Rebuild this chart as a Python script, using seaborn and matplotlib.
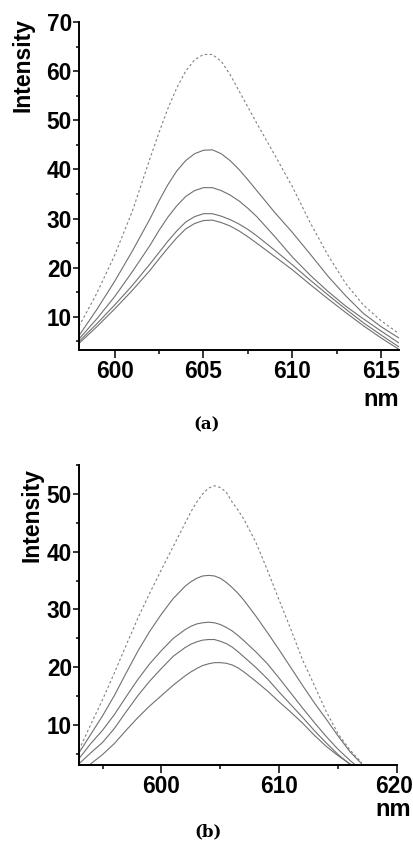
import matplotlib
matplotlib.use("Agg")
import matplotlib.pyplot as plt
from matplotlib.ticker import MultipleLocator
from matplotlib.transforms import ScaledTranslation
import seaborn as sns

# panel (a) -- emission spectra, 598-616 nm
wl_a = [598, 599, 600, 601, 602,
        602.5, 603, 603.5, 604, 604.5, 605, 605.5, 606, 606.5, 607, 607.5, 608,
        609, 610, 611, 612, 613, 614, 615, 616]
ref_a = [8.1, 14.8, 22.5, 31.5, 42.3,
         47.5, 52.4, 56.6, 60.0, 62.3, 63.4, 63.4, 62.0, 59.3, 56.0, 52.7, 49.4,
         43.0, 36.5, 29.2, 22.6, 16.8, 12.4, 9.2, 6.6]
s1_a = [6.2, 11.5, 17.2, 23.4, 30.0,
        33.6, 36.9, 39.7, 41.8, 43.2, 43.9, 44.0, 43.2, 41.8, 40.0, 37.9, 35.7,
        31.3, 27.2, 22.8, 18.3, 14.3, 10.7, 8.0, 5.7]
s2_a = [5.5, 9.6, 14.1, 19.2, 24.6,
        27.6, 30.3, 32.6, 34.5, 35.7, 36.3, 36.3, 35.7, 34.8, 33.6, 32.1, 30.4,
        26.4, 22.2, 18.5, 15.2, 12.2, 9.6, 7.1, 4.7]
s3_a = [5.0, 8.6, 12.4, 16.4, 20.8,
        23.1, 25.4, 27.5, 29.3, 30.4, 31.0, 31.0, 30.5, 29.8, 28.9, 27.8, 26.5,
        23.6, 20.6, 17.5, 14.5, 11.6, 8.8, 6.3, 3.9]
s4_a = [4.6, 8.0, 11.6, 15.4, 19.5,
        21.8, 24.0, 26.1, 27.9, 29.0, 29.6, 29.7, 29.2, 28.5, 27.5, 26.3, 25.0,
        22.3, 19.6, 16.6, 13.7, 10.9, 8.2, 5.7, 3.4]

# panel (b) -- 593-620 nm
wl_b = [593, 594, 595, 596, 597, 598, 599, 600, 601, 602,
        602.5, 603, 603.5, 604, 604.5, 605, 605.5, 606, 606.5, 607,
        608, 609, 610, 611, 612, 613, 614, 615, 616, 617]
ref_b = [5.7, 10.1, 14.4, 19.0, 23.8, 28.5, 32.8, 36.9, 40.9, 44.9,
         46.9, 48.6, 50.0, 51.0, 51.4, 51.1, 50.3, 48.6, 47.2, 45.6,
         41.7, 36.8, 31.6, 26.5, 21.2, 16.8, 12.3, 8.5, 5.7, 3.5]
s1_b = [5.2, 8.4, 11.6, 15.1, 19.0, 22.8, 26.2, 29.2, 31.9, 34.0,
        34.8, 35.4, 35.8, 35.9, 35.8, 35.4, 34.7, 33.8, 32.8, 31.6,
        28.9, 26.0, 23.0, 19.9, 16.8, 13.8, 11.0, 8.1, 5.4, 3.3]
s2_b = [4.2, 6.8, 9.1, 11.8, 14.9, 17.9, 20.6, 22.9, 25.0, 26.5,
        27.1, 27.5, 27.7, 27.8, 27.7, 27.4, 26.9, 26.3, 25.5, 24.6,
        22.7, 20.6, 18.1, 15.5, 12.9, 10.4, 8.0, 5.8, 3.9, 2.2]
s3_b = [3.3, 5.2, 7.0, 9.4, 12.3, 15.1, 17.6, 19.8, 21.9, 23.4,
        24.0, 24.4, 24.7, 24.8, 24.8, 24.5, 24.1, 23.5, 22.7, 21.8,
        20.0, 18.0, 15.7, 13.5, 11.3, 9.0, 6.9, 4.9, 3.2, 1.8]
s4_b = [1.6, 3.3, 4.9, 6.8, 9.1, 11.3, 13.3, 15.1, 16.9, 18.5,
        19.2, 19.8, 20.3, 20.6, 20.8, 20.8, 20.7, 20.4, 19.9, 19.2,
        17.6, 15.9, 14.0, 12.2, 10.3, 8.2, 6.3, 4.7, 3.3, 2.0]

sns.set_style("ticks")
# narrow bold everywhere (tick labels, nm); Intensity gets the regular face
plt.rcParams['font.family'] = ['Liberation Sans Narrow', 'Liberation Sans', 'DejaVu Sans']
plt.rcParams['font.weight'] = 'bold'
plt.rcParams['text.color'] = 'black'
plt.rcParams['xtick.color'] = 'black'
plt.rcParams['ytick.color'] = 'black'
plt.rcParams['lines.solid_joinstyle'] = 'round'

fig = plt.figure(figsize=(4.14, 8.41), dpi=100)
ax_a = fig.add_axes([79/414, 1 - 350/841, 320/414, 328/841])
ax_b = fig.add_axes([79/414, 1 - 765/841, 318/414, 300/841])

line_col = '#707070'


def draw(ax, wl, ref, solids):
    sns.lineplot(x=wl, y=ref, ax=ax, color='#808080', lw=0.8,
                 linestyle=(0, (2.2, 2.2)))
    for s in solids:
        sns.lineplot(x=wl, y=s, ax=ax, color=line_col, lw=0.8)


draw(ax_a, wl_a, ref_a, [s1_a, s2_a, s3_a, s4_a])
draw(ax_b, wl_b, ref_b, [s1_b, s2_b, s3_b, s4_b])

ax_a.set_xlim(598, 616)
ax_a.set_ylim(3.27, 70)
ax_a.xaxis.set_major_locator(MultipleLocator(5))
ax_a.xaxis.set_minor_locator(MultipleLocator(2.5))
ax_a.set_yticks([10, 20, 30, 40, 50, 60, 70])
ax_a.yaxis.set_minor_locator(MultipleLocator(5))

ax_b.set_xlim(593, 620)
ax_b.set_ylim(3.09, 55)
ax_b.set_xticks([600, 610, 620])
ax_b.xaxis.set_minor_locator(MultipleLocator(5))
ax_b.set_yticks([10, 20, 30, 40, 50])
ax_b.yaxis.set_minor_locator(MultipleLocator(5))

for ax in (ax_a, ax_b):
    sns.despine(ax=ax)
    for sp in ('left', 'bottom'):
        ax.spines[sp].set_linewidth(1.4)
        ax.spines[sp].set_color('black')
    ax.tick_params(which='both', width=1.1, color='black', labelcolor='black',
                   labelsize=16.3)
    ax.tick_params(axis='x', which='major', length=5.5, pad=2)
    ax.tick_params(axis='x', which='minor', length=3)
    ax.tick_params(axis='y', which='major', length=4.2, pad=1)
    ax.tick_params(axis='y', which='minor', length=2.2)
    ax.set_xlabel('')
    ax.set_ylabel('')

fig.text(23/414, 1 - 65/841, 'Intensity', rotation=90, fontsize=16.5,
         family=['Liberation Sans', 'DejaVu Sans'], ha='center', va='center')
fig.text(32/414, 1 - 515/841, 'Intensity', rotation=90, fontsize=16.5,
         family=['Liberation Sans', 'DejaVu Sans'], ha='center', va='center')
fig.text(399/414, 1 - 399/841, 'nm', fontsize=17, ha='right', va='center')
fig.text(411/414, 1 - 809/841, 'nm', fontsize=17, ha='right', va='center')
fig.text(207/414, 1 - 425/841, '(a)', fontsize=12,
         family='DejaVu Serif', ha='center', va='center')
fig.text(208/414, 1 - 832/841, '(b)', fontsize=12,
         family='DejaVu Serif', ha='center', va='center')

# "620" sits against the right edge; nudge it in a touch so it is not clipped
fig.canvas.draw()
last = ax_b.get_xticklabels()[-1]
last.set_transform(last.get_transform() + ScaledTranslation(-3/100, 0, fig.dpi_scale_trans))

fig.savefig('out.png', dpi=100)
